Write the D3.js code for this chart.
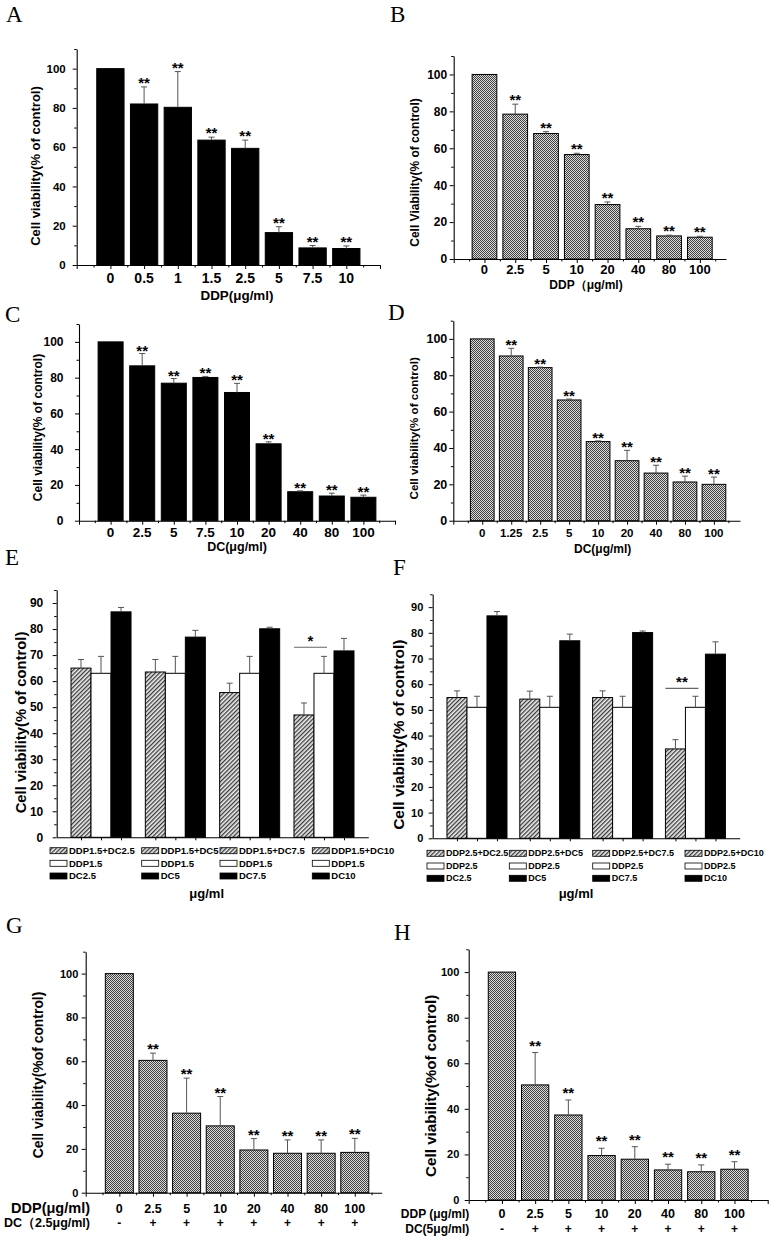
<!DOCTYPE html>
<html><head><meta charset="utf-8">
<script src="https://cdn.jsdelivr.net/npm/d3@7"></script>
<style>
html,body{margin:0;padding:0;background:#fff;}
svg text{font-family:"Liberation Sans",Arial,sans-serif;font-weight:bold;fill:#000;}
svg text.panel{font-family:"Liberation Serif","Times New Roman",serif;font-weight:normal;}
</style></head>
<body>
<svg id="fig" width="772" height="1240"></svg>
<script>
// ---------------- DATA ----------------
const aCats = ["0","0.5","1","1.5","2.5","5","7.5","10"];
const aVals = [100,82,80.3,63.6,59.4,16.5,8.7,8.4];
const aErr  = [0,8.7,18.2,1.5,4.2,3.0,1.2,1.3];
const aSig  = ["","**","**","**","**","**","**","**"];

const bCats = ["0","2.5","5","10","20","40","80","100"];
const bVals = [100,78.5,68,56.6,29.5,16.4,12.5,11.8];
const bErr  = [0,5.4,1.0,0.7,1.4,1.3,0.4,0.5];
const bSig  = ["","**","**","**","**","**","**","**"];

const cCats = ["0","2.5","5","7.5","10","20","40","80","100"];
const cVals = [100,86.6,76.9,80.1,71.7,43,16.2,13.8,13.1];
const cErr  = [0,6.9,2.6,0.6,5.1,1.1,0.5,1.6,1.2];
const cSig  = ["","**","**","**","**","**","**","**","**"];

const dCats = ["0","1.25","2.5","5","10","20","40","80","100"];
const dVals = [100,90.6,84.2,66.4,43.5,33,26.2,21.3,20];
const dErr  = [0,4.2,0.3,0.5,0.4,5.7,4.3,3.2,4.0];
const dSig  = ["","**","**","**","**","**","**","**","**"];

const eCombo    = [65,63.5,55.6,47];
const eComboErr = [3.3,4.8,3.6,4.6];
const eDDP      = [63,63,63,63];
const eDDPErr   = [6.5,6.5,6.5,6.5];
const eDC       = [86.6,76.9,80.1,71.6];
const eDCErr    = [1.7,2.6,0.6,4.8];
const eLegend   = [["DDP1.5+DC2.5","DDP1.5","DC2.5"],["DDP1.5+DC5","DDP1.5","DC5"],["DDP1.5+DC7.5","DDP1.5","DC7.5"],["DDP1.5+DC10","DDP1.5","DC10"]];
const eSigGroup = 3, eSigLevel = 73, eSigText = "*";

const fCombo    = [54.8,54.2,54.8,34.8];
const fComboErr = [2.6,3.1,2.6,3.6];
const fDDP      = [51,51,51,51];
const fDDPErr   = [4.3,4.3,4.3,4.3];
const fDC       = [86.6,76.9,80.1,71.7];
const fDCErr    = [1.7,2.6,0.6,4.8];
const fLegend   = [["DDP2.5+DC2.5","DDP2.5","DC2.5"],["DDP2.5+DC5","DDP2.5","DC5"],["DDP2.5+DC7.5","DDP2.5","DC7.5"],["DDP2.5+DC10","DDP2.5","DC10"]];
const fSigGroup = 3, fSigLevel = 58.4, fSigText = "**";

const gCats = ["0","2.5","5","10","20","40","80","100"];
const gVals = [100,60.4,36.3,30.5,19.5,18,18,18.4];
const gErr  = [0,3.3,16,13.4,5.2,6.1,6.1,6.4];
const gSig  = ["","**","**","**","**","**","**","**"];
const gDC   = ["-","+","+","+","+","+","+","+"];

const hCats = ["0","2.5","5","10","20","40","80","100"];
const hVals = [100,50.5,37.3,19.5,17.9,13.2,12.4,13.5];
const hErr  = [0,14.2,6.6,3.2,5.5,2.5,3.0,3.3];
const hSig  = ["","**","**","**","**","**","**","**"];
const hDC   = ["-","+","+","+","+","+","+","+"];

const yMajor = [0,20,40,60,80,100];
const yMinor = [10,30,50,70,90,110];
const eyMajor = [0,10,20,30,40,50,60,70,80,90];
const eyMinor = [5,15,25,35,45,55,65,75,85,95];

// ---------------- DRAWING ----------------
const svg = d3.select("#fig");
const defs = svg.append("defs");
const chk = defs.append("pattern").attr("id","check").attr("width",2).attr("height",2).attr("patternUnits","userSpaceOnUse");
chk.append("rect").attr("width",2).attr("height",2).attr("fill","#dcdcdc");
chk.append("rect").attr("width",1).attr("height",1).attr("fill","#404040");
chk.append("rect").attr("x",1).attr("y",1).attr("width",1).attr("height",1).attr("fill","#404040");
const hat = defs.append("pattern").attr("id","hatch").attr("width",3).attr("height",3).attr("patternUnits","userSpaceOnUse").attr("patternTransform","rotate(45)");
hat.append("rect").attr("width",3).attr("height",3).attr("fill","#eeeeee");
hat.append("rect").attr("width",1.3).attr("height",3).attr("fill","#3a3a3a");

function panelLetter(t, x, y){
  svg.append("text").attr("class","panel").attr("x",x).attr("y",y).attr("font-size",23).text(t);
}

function styleAxis(g){
  g.select(".domain").attr("stroke","#000").attr("stroke-width",1.1);
  g.selectAll(".tick line").attr("stroke","#000").attr("stroke-width",1);
}

function yAxes(g, y, x0, major, minor, font, pad){
  const ax = g.append("g").attr("transform",`translate(${x0},0)`)
    .call(d3.axisLeft(y).tickValues(major).tickSize(4).tickSizeOuter(0).tickPadding(pad).tickFormat(d3.format("d")));
  ax.selectAll("text").attr("font-size",font).attr("font-family",null);
  styleAxis(ax);
  const mn = g.append("g").attr("transform",`translate(${x0},0)`)
    .call(d3.axisLeft(y).tickValues(minor).tickSize(2.5).tickSizeOuter(0).tickFormat(""));
  mn.select(".domain").remove();
  styleAxis(mn);
}

function barPanel(o){
  const g = svg.append("g");
  const x = d3.scaleLinear().domain([0,o.xMax]).range([o.x0,o.x1]);
  const y = d3.scaleLinear().domain([0,110]).range([o.y0,o.y1]);
  g.selectAll("rect.bar").data(o.vals).join("rect")
    .attr("x",(d,i)=>x(i+1)-o.bw/2).attr("y",d=>y(d))
    .attr("width",o.bw).attr("height",d=>y(0)-y(d))
    .attr("fill",o.fill).attr("stroke","#000").attr("stroke-width",1);
  const eb = g.selectAll("g.err").data(o.vals.map((v,i)=>({v,e:o.err[i],i}))).join("g").filter(d=>d.e>0);
  eb.append("line").attr("x1",d=>x(d.i+1)).attr("x2",d=>x(d.i+1)).attr("y1",d=>y(d.v)).attr("y2",d=>y(d.v+d.e))
    .attr("stroke","#555").attr("stroke-width",1);
  eb.append("line").attr("x1",d=>x(d.i+1)-3).attr("x2",d=>x(d.i+1)+3).attr("y1",d=>y(d.v+d.e)).attr("y2",d=>y(d.v+d.e))
    .attr("stroke","#555").attr("stroke-width",1);
  g.selectAll("text.sig").data(o.vals).join("text")
    .attr("x",(d,i)=>x(i+1)).attr("y",(d,i)=>y(d+o.err[i])+o.sigDy)
    .attr("text-anchor","middle").attr("font-size",15).attr("font-weight","normal")
    .text((d,i)=>o.sig[i]);
  yAxes(g, y, o.x0, yMajor, yMinor, o.yFont, o.yPad);
  const xa = g.append("g").attr("transform",`translate(0,${o.y0})`)
    .call(d3.axisBottom(x).tickValues(d3.range(0,Math.floor(o.xMax)+1)).tickSize(4).tickSizeOuter(0).tickFormat(""));
  styleAxis(xa);
  const xm = g.append("g").attr("transform",`translate(0,${o.y0})`)
    .call(d3.axisBottom(x).tickValues(d3.range(0.5,o.xMax,1)).tickSize(2.5).tickSizeOuter(0).tickFormat(""));
  xm.select(".domain").remove(); styleAxis(xm);
  g.selectAll("text.xl").data(o.cats).join("text")
    .attr("x",(d,i)=>x(i+1)).attr("y",o.xLabY).attr("dy","0.35em")
    .attr("text-anchor","middle").attr("font-size",o.xFont).text(d=>d);
  g.append("text").attr("transform",`translate(${o.tx},${o.ty}) rotate(-90)`)
    .attr("text-anchor","middle").attr("dy","0.35em").attr("font-size",o.tFont).text(o.title);
  if(o.xTitle){
    g.append("text").attr("x",o.xtx).attr("y",o.xty).attr("dy","0.35em")
      .attr("text-anchor","middle").attr("font-size",o.xtFont).text(o.xTitle);
  }
  if(o.signs){
    g.selectAll("text.sg").data(o.signs).join("text")
      .attr("x",(d,i)=>x(i+1)).attr("y",o.signY).attr("dy","0.35em")
      .attr("text-anchor","middle").attr("font-size",12).text(d=>d);
    g.append("text").attr("x",o.rowX).attr("y",o.xLabY).attr("dy","0.35em").attr("text-anchor","end")
      .attr("font-size",o.row1Font).text(o.row1);
    g.append("text").attr("x",o.rowX).attr("y",o.signY).attr("dy","0.35em").attr("text-anchor","end")
      .attr("font-size",o.row2Font).text(o.row2);
  }
}

function groupPanel(o){
  const g = svg.append("g");
  const groups = d3.range(o.combo.length);
  const xg = d3.scaleBand().domain(groups).range([o.x0,o.x1]).paddingInner(o.pI).paddingOuter(o.pO);
  const xs = d3.scaleBand().domain([0,1,2]).range([0,xg.bandwidth()]);
  const y = d3.scaleLinear().domain([0,95]).range([o.y0,o.y1]);
  const fills = ["url(#hatch)","#fff","#000"];
  const series = [o.combo,o.ddp,o.dc], errs = [o.comboErr,o.ddpErr,o.dcErr];
  const recs = [];
  groups.forEach(gi=>series.forEach((s,si)=>recs.push({gi,si,v:s[gi],e:errs[si][gi]})));
  const bx = d=>xg(d.gi)+xs(d.si);
  const bw = xs.bandwidth();
  g.selectAll("rect.b").data(recs).join("rect")
    .attr("x",bx).attr("y",d=>y(d.v)).attr("width",bw).attr("height",d=>y(0)-y(d.v))
    .attr("fill",d=>fills[d.si]).attr("stroke","#000").attr("stroke-width",1);
  g.selectAll("line.e").data(recs).join("line")
    .attr("x1",d=>bx(d)+bw/2).attr("x2",d=>bx(d)+bw/2).attr("y1",d=>y(d.v)).attr("y2",d=>y(d.v+d.e))
    .attr("stroke","#555");
  g.selectAll("line.c").data(recs).join("line")
    .attr("x1",d=>bx(d)+bw/2-3).attr("x2",d=>bx(d)+bw/2+3).attr("y1",d=>y(d.v+d.e)).attr("y2",d=>y(d.v+d.e))
    .attr("stroke","#555");
  const sx1 = xg(o.sigGroup)+xs(0), sx2 = xg(o.sigGroup)+xs(1)+bw/2+3;
  g.append("line").attr("x1",sx1).attr("x2",sx2).attr("y1",y(o.sigLevel)).attr("y2",y(o.sigLevel)).attr("stroke","#666").attr("stroke-width",1.2);
  g.append("text").attr("x",(sx1+sx2)/2).attr("y",y(o.sigLevel)-1).attr("text-anchor","middle")
    .attr("font-size",15).attr("font-weight","normal").text(o.sigText);
  yAxes(g, y, o.x0, eyMajor, eyMinor, o.yFont, o.yPad);
  const tickPos = [];
  groups.forEach(gi=>{ [0,1,2].forEach(si=>tickPos.push(xg(gi)+xs(si)+bw/2)); });
  const xl = d3.scaleLinear().domain([o.x0,o.x1]).range([o.x0,o.x1]);
  const xa = g.append("g").attr("transform",`translate(0,${o.y0})`)
    .call(d3.axisBottom(xl).tickValues(tickPos).tickSize(3).tickSizeOuter(0).tickFormat(""));
  styleAxis(xa);
  const sw = 17, sh = 6;
  groups.forEach(gi=>{
    o.legend[gi].forEach((lab,si)=>{
      const lx = o.legX[gi], ly = o.legY[si];
      g.append("rect").attr("x",lx).attr("y",ly-sh/2).attr("width",sw).attr("height",sh)
        .attr("fill",fills[si]).attr("stroke","#000").attr("stroke-width",0.8);
      g.append("text").attr("x",lx+sw+2).attr("y",ly).attr("dy","0.35em").attr("font-size",o.legFont).text(lab);
    });
  });
  g.append("text").attr("transform",`translate(${o.tx},${o.ty}) rotate(-90)`)
    .attr("text-anchor","middle").attr("dy","0.35em").attr("font-size",o.tFont).text("Cell viability(% of control)");
  g.append("text").attr("x",o.xtx).attr("y",o.xty).attr("dy","0.35em").attr("text-anchor","middle")
    .attr("font-size",13).text("μg/ml");
}

panelLetter("A",6,22); panelLetter("B",390,22);
panelLetter("C",5,322); panelLetter("D",388,320);
panelLetter("E",5,565); panelLetter("F",393,575);
panelLetter("G",6,933); panelLetter("H",394,940);

barPanel({cats:aCats,vals:aVals,err:aErr,sig:aSig,x0:76.7,x1:380,xMax:9,y0:265,y1:49,bw:27.3,fill:"#000",
  yFont:11.5,yPad:7,xFont:14,xLabY:278,sigDy:1,title:"Cell viability(% of control)",tx:35,ty:166,tFont:13,
  xTitle:"DDP(μg/ml)",xtx:237,xty:295,xtFont:13.4});
barPanel({cats:bCats,vals:bVals,err:bErr,sig:bSig,x0:453.7,x1:726,xMax:8.85,y0:259,y1:56,bw:24.7,fill:"url(#check)",
  yFont:12,yPad:2.5,xFont:13,xLabY:269.3,sigDy:1,title:"Cell Viability(% of control)",tx:414.3,ty:172.5,tFont:12,
  xTitle:"DDP（μg/ml)",xtx:586,xty:285,xtFont:12});
barPanel({cats:cCats,vals:cVals,err:cErr,sig:cSig,x0:79,x1:395,xMax:10,y0:520.7,y1:324,bw:25,fill:"#000",
  yFont:12,yPad:11.5,xFont:13.5,xLabY:532,sigDy:2,title:"Cell viability(% of control)",tx:37.3,ty:427.5,tFont:12,
  xTitle:"DC(μg/ml)",xtx:237,xty:547,xtFont:12.5});
barPanel({cats:dCats,vals:dVals,err:dErr,sig:dSig,x0:453.3,x1:740,xMax:9.9,y0:520.7,y1:320.7,bw:23.7,fill:"url(#check)",
  yFont:12.5,yPad:2,xFont:11.5,xLabY:533.3,sigDy:2,title:"Cell viability(% of control)",tx:414.3,ty:428.3,tFont:11.6,
  xTitle:"DC(μg/ml)",xtx:602.7,xty:548.3,xtFont:12});

groupPanel({combo:eCombo,comboErr:eComboErr,ddp:eDDP,ddpErr:eDDPErr,dc:eDC,dcErr:eDCErr,legend:eLegend,
  sigGroup:eSigGroup,sigLevel:eSigLevel,sigText:eSigText,
  x0:56.7,x1:368.3,y0:837.3,y1:590,pI:0.1925,pO:0.1925,yFont:12,yPad:9.4,
  legX:[50,141.7,220,312.3],legY:[850.7,863.3,876],legFont:9.5,tx:21,ty:722.5,tFont:14.8,xtx:206.7,xty:893});
groupPanel({combo:fCombo,comboErr:fComboErr,ddp:fDDP,ddpErr:fDDPErr,dc:fDC,dcErr:fDCErr,legend:fLegend,
  sigGroup:fSigGroup,sigLevel:fSigLevel,sigText:fSigText,
  x0:432.7,x1:739.7,y0:838.3,y1:594.3,pI:0.176,pO:0.196,yFont:11,yPad:5.4,
  legX:[427,509.3,592.7,685],legY:[853.3,866,878.3],legFont:9,tx:399,ty:734.7,tFont:15.5,xtx:576,xty:893.3});

barPanel({cats:gCats,vals:gVals,err:gErr,sig:gSig,x0:85.7,x1:381.7,xMax:8.8,y0:1192.7,y1:951.7,bw:28,fill:"url(#check)",
  yFont:11,yPad:3.4,xFont:12.5,xLabY:1208.3,sigDy:1,title:"Cell viability(%of control)",tx:38.3,ty:1075,tFont:13.9,
  signs:gDC,signY:1222.3,rowX:90,row1Font:14.5,row2Font:12.5,row1:"DDP(μg/ml)",row2:"DC（2.5μg/ml)"});
barPanel({cats:hCats,vals:hVals,err:hErr,sig:hSig,x0:468.7,x1:767.7,xMax:9,y0:1200,y1:949.3,bw:27.3,fill:"url(#check)",
  yFont:11,yPad:5.4,xFont:12.5,xLabY:1214,sigDy:-2,title:"Cell viability(%of control)",tx:431,ty:1085.8,tFont:15.2,
  signs:hDC,signY:1228.3,rowX:469.3,row1Font:12,row2Font:12,row1:"DDP (μg/ml)",row2:"DC(5μg/ml)"});
</script>
</body></html>
